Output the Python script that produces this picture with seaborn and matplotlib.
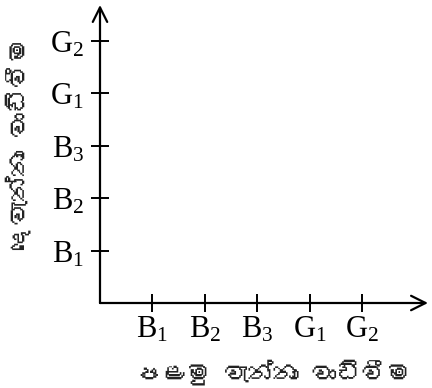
import matplotlib
matplotlib.use("Agg")
import matplotlib.pyplot as plt
import seaborn as sns
from matplotlib import font_manager
from matplotlib.ft2font import FT2Font

x_labels = [r"$\mathrm{B}_1$", r"$\mathrm{B}_2$", r"$\mathrm{B}_3$", r"$\mathrm{G}_1$", r"$\mathrm{G}_2$"]
y_labels = [r"$\mathrm{B}_1$", r"$\mathrm{B}_2$", r"$\mathrm{B}_3$", r"$\mathrm{G}_1$", r"$\mathrm{G}_2$"]
positions = [1, 2, 3, 4, 5]
x_title = "පළමු වැන්නා වාඩිවීම"
y_title = "දෙවැන්නා වාඩිවීම"


def find_sinhala_font():
    # look for any installed font that has Sinhala glyphs
    for fe in font_manager.fontManager.ttflist:
        try:
            f = FT2Font(fe.fname)
            if f.get_char_index(ord("ප")) and f.get_char_index(ord("ව")):
                return fe.name
        except Exception:
            continue
    return None


sns.set_theme(style="white")
plt.rcParams["mathtext.fontset"] = "custom"
plt.rcParams["mathtext.rm"] = "Liberation Serif"
plt.rcParams["mathtext.it"] = "Liberation Serif:italic"
sin_font = find_sinhala_font()
families = ([sin_font] if sin_font else []) + ["Liberation Serif", "DejaVu Sans"]
plt.rcParams["font.family"] = families

fig = plt.figure(figsize=(4.32, 3.88), dpi=100)
ax = fig.add_axes([100 / 432, (388 - 303) / 388, (428 - 100) / 432, (303 - 5) / 388])
ax.set_facecolor("white")
ax.set_xlim(0, 6.25)
ax.set_ylim(0, 5.68)
for s in ax.spines.values():
    s.set_visible(False)

ax.set_xticks(positions)
ax.set_xticklabels(x_labels)
ax.set_yticks(positions)
ax.set_yticklabels(y_labels)
ax.tick_params(axis="both", direction="inout", length=13, width=1.4, color="black",
               labelsize=22, labelcolor="black", bottom=True, left=True)
ax.tick_params(axis="x", pad=2)
ax.tick_params(axis="y", pad=5)

arrow = dict(arrowstyle="->", color="black", lw=1.6, mutation_scale=26, shrinkA=0, shrinkB=0)
ax.annotate("", xy=(1, 0), xytext=(0, 0), xycoords="axes fraction", arrowprops=arrow, annotation_clip=False)
ax.annotate("", xy=(0, 1), xytext=(0, 0), xycoords="axes fraction", arrowprops=arrow, annotation_clip=False)

fig.text(273 / 432, 1 - 372 / 388, x_title, ha="center", va="center", fontsize=18, color="#222222")
fig.text(18 / 432, 1 - 144 / 388, y_title, ha="center", va="center", rotation=90, fontsize=18, color="#222222")

fig.savefig("out.png", dpi=100, facecolor="white")
